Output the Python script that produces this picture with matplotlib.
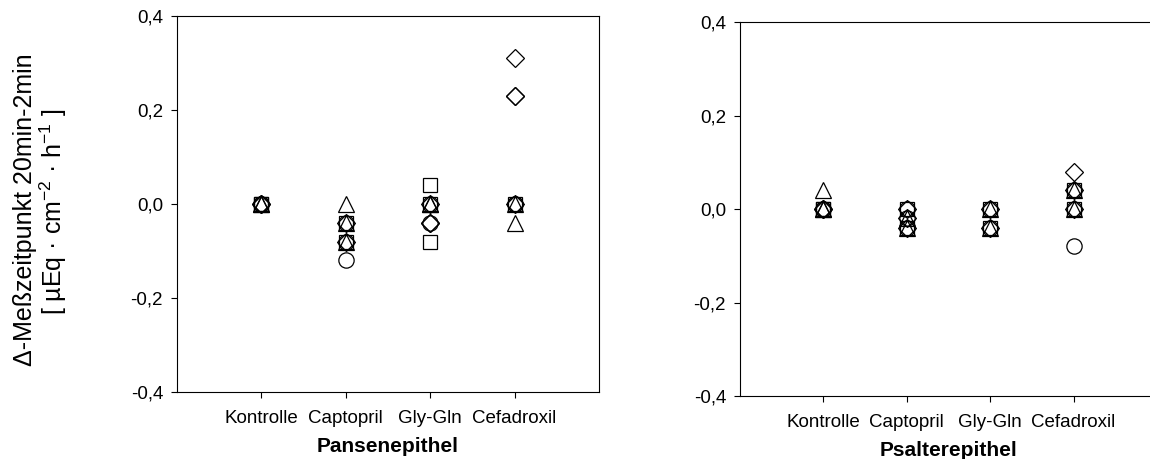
import matplotlib
matplotlib.use("Agg")
import matplotlib.pyplot as plt

plt.rcParams['font.family'] = ['Liberation Sans', 'DejaVu Sans']
plt.rcParams['mathtext.fontset'] = 'custom'
plt.rcParams['mathtext.rm'] = 'Liberation Sans'
plt.rcParams['mathtext.it'] = 'Liberation Sans:italic'

categories = ["Kontrolle", "Captopril", "Gly-Gln", "Cefadroxil"]
y_ticks = [-0.4, -0.2, 0.0, 0.2, 0.4]
y_tick_labels = ["-0,4", "-0,2", "0,0", "0,2", "0,4"]

# one list of values per category, per marker symbol
pansen_circle = [[0, 0], [-0.04, -0.08, -0.12], [0, -0.04], [0, 0]]
pansen_square = [[0, 0], [-0.04, -0.08], [0.04, 0, -0.08], [0]]
pansen_diamond = [[0, 0], [-0.04, -0.08], [0, -0.04, -0.04], [0.31, 0.23, 0.23, 0]]
pansen_triangle = [[0, 0], [0.0, -0.04, -0.08], [0, 0], [0, -0.04]]

psalter_circle = [[0, 0], [0, -0.02, -0.04], [0, -0.04], [0.04, 0, -0.08]]
psalter_square = [[0, 0], [0, -0.04], [0, -0.04], [0.04, 0]]
psalter_diamond = [[0, 0], [0, -0.02, -0.04], [0, -0.04], [0.08, 0.04, 0]]
psalter_triangle = [[0.04, 0, 0], [-0.02, -0.04], [0, -0.04], [0.04, 0]]

W, H = 1150, 459
fig = plt.figure(figsize=(W / 100, H / 100), dpi=100)


def px_axes(left, right, top, bottom):
    return fig.add_axes([left / W, 1 - bottom / H, (right - left) / W, (bottom - top) / H])


def draw_panel(ax, series, xlabel):
    markers = [('o', 11), ('s', 10), ('D', 9.5), ('^', 12)]
    for vals, (m, ms) in zip(series, markers):
        for i, ys in enumerate(vals):
            ax.plot([i + 1] * len(ys), ys, linestyle='none', marker=m, markersize=ms,
                    markerfacecolor='none', markeredgecolor='black', markeredgewidth=0.9)
    ax.set_xlim(0, 5)
    ax.set_ylim(-0.4, 0.4)
    ax.set_xticks(range(1, 5))
    ax.set_xticklabels(categories, fontsize=13.5)
    ax.set_yticks(y_ticks)
    ax.set_yticklabels(y_tick_labels, fontsize=13.5)
    ax.tick_params(direction='out', length=4, width=0.8)
    ax.tick_params(axis='y', pad=6)
    ax.tick_params(axis='x', pad=9)
    ax.set_xlabel(xlabel, fontsize=15, fontweight='bold', labelpad=7)
    for s in ax.spines.values():
        s.set_linewidth(0.8)


ax1 = px_axes(177, 599, 16, 392)
draw_panel(ax1, [pansen_circle, pansen_square, pansen_diamond, pansen_triangle], "Pansenepithel")

ax2 = px_axes(740, 1157, 22, 396)
draw_panel(ax2, [psalter_circle, psalter_square, psalter_diamond, psalter_triangle], "Psalterepithel")

fig.text(32 / W, 1 - 210 / H, "Δ-Meßzeitpunkt 20min-2min", rotation=90, rotation_mode='anchor',
         ha='center', va='baseline', fontsize=18)
fig.text(62 / W, 1 - 212 / H, r"[ µEq · cm$^{-2}$ · h$^{-1}$ ]", rotation=90, rotation_mode='anchor',
         ha='center', va='baseline', fontsize=18)

fig.savefig("out.png", dpi=100)
